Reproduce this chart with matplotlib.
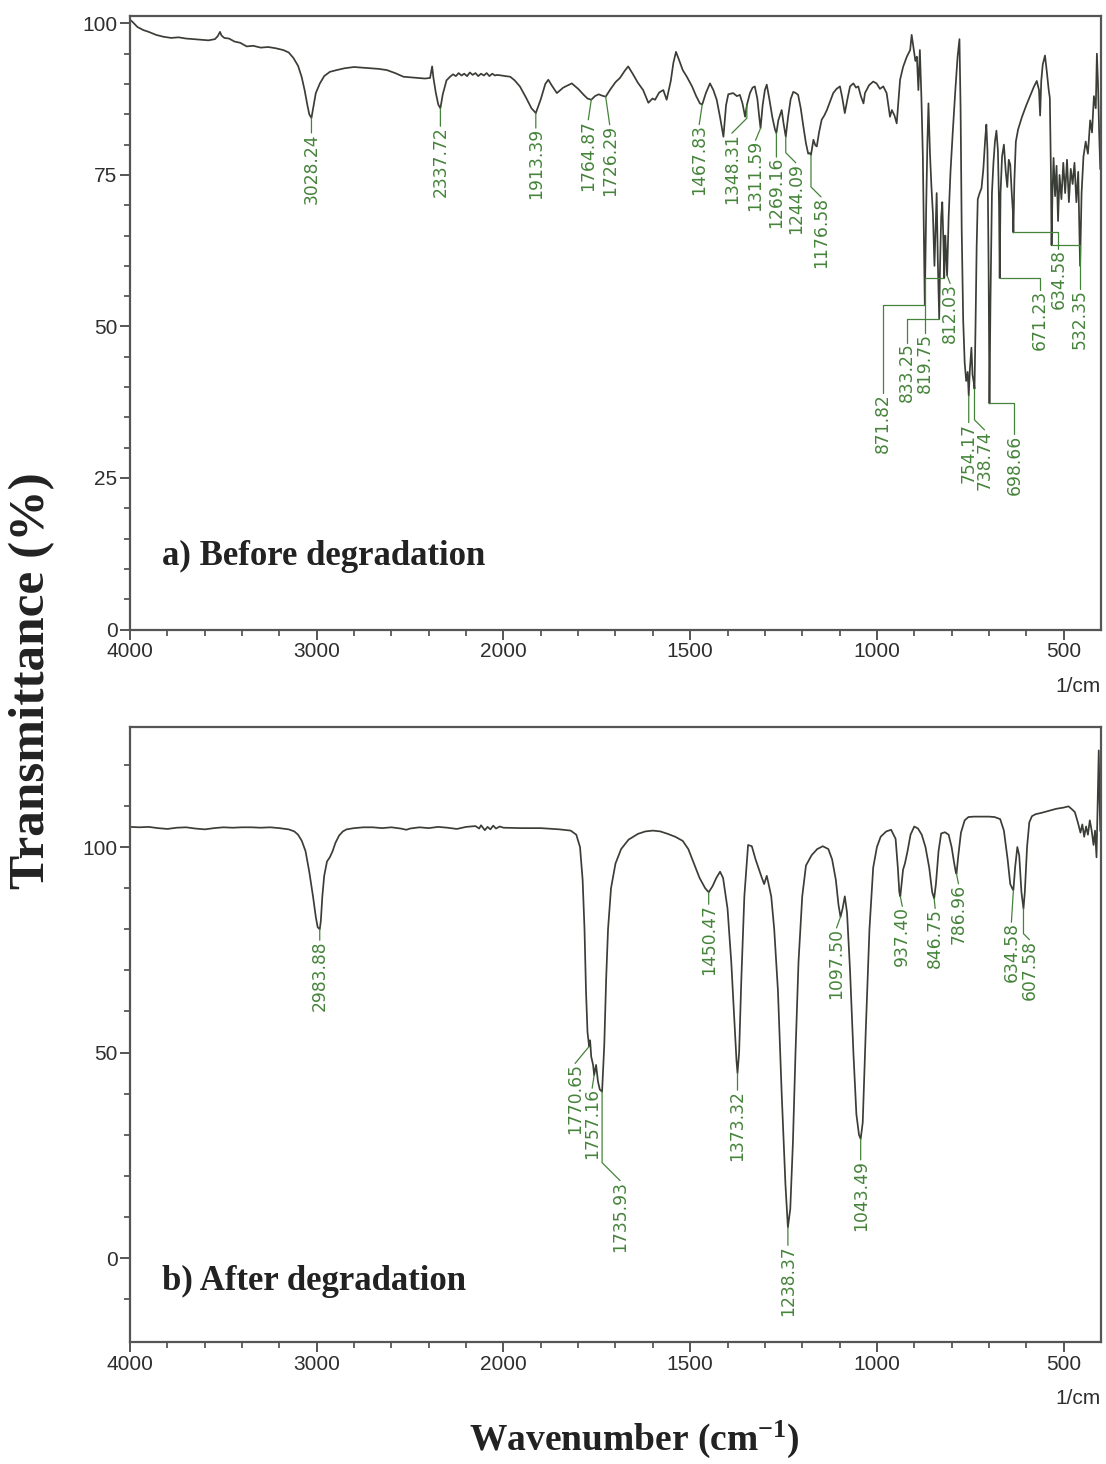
import numpy as np
import matplotlib
matplotlib.use("Agg")
import matplotlib.pyplot as plt

# ---------------- data ----------------
wn_a = [4000, 3985, 3960, 3929, 3900, 3860, 3822, 3780, 3740, 3700, 3660, 3620, 3580, 3545, 3530, 3518, 3510,
        3495, 3470, 3440, 3410, 3375, 3340, 3300, 3260, 3220, 3179, 3150, 3125, 3100, 3081, 3065, 3050, 3040,
        3028.24, 3018, 3005, 2983, 2960, 2930, 2893, 2850, 2800, 2760, 2715, 2670, 2625, 2580, 2536, 2500,
        2460, 2420, 2393, 2386, 2382, 2375, 2362, 2349, 2337.72, 2325, 2305, 2286, 2270, 2255, 2240, 2225,
        2210, 2195, 2180, 2165, 2150, 2135, 2120, 2105, 2090, 2075, 2060, 2045, 2035, 2010, 1995, 1982, 1970,
        1956, 1940, 1925, 1913.39, 1900, 1888, 1880, 1870, 1857, 1840, 1817, 1800, 1785, 1775, 1764.87, 1755,
        1745, 1737, 1726.29, 1715, 1700, 1688, 1675, 1666, 1655, 1640, 1626, 1612, 1601, 1594, 1583, 1572,
        1563, 1552, 1545, 1538, 1530, 1520, 1509, 1495, 1484, 1474, 1467.83, 1458, 1447, 1438, 1429, 1420,
        1411, 1404, 1398, 1385, 1375, 1367, 1360, 1353, 1348.31, 1340, 1333, 1327, 1320, 1315, 1311.59, 1306,
        1300, 1295, 1288, 1280, 1273, 1269.16, 1264, 1255, 1250, 1244.09, 1238, 1231, 1224, 1217, 1211, 1204,
        1197, 1190, 1184, 1180, 1176.58, 1170, 1165, 1161, 1155, 1148, 1141, 1134, 1125, 1117, 1108, 1099,
        1093, 1086, 1079, 1072, 1063, 1056, 1050, 1043, 1036, 1032, 1021, 1010, 1001, 992, 983, 974, 965, 960,
        953, 947, 942, 938, 930, 920, 911, 907, 902, 897, 893, 889, 885, 881, 877, 874, 871.82, 868, 865, 862,
        858, 854, 850, 846, 843, 840, 837, 835, 833.25, 831, 828, 825, 822, 819.75, 817, 815, 812.03, 808, 803,
        797, 790, 784, 779, 776, 773, 769, 765, 761, 757, 754.17, 751, 747, 744, 740, 738.74, 736, 733, 730,
        725, 720, 715, 710, 707, 704, 701, 698.66, 696, 692, 688, 684, 680, 676, 673, 671.23, 669, 665, 660,
        655, 651, 647, 643, 639, 636, 634.58, 632, 628, 622, 612, 600, 590, 580, 572, 566, 563, 560, 556, 550,
        545, 540, 537, 534, 532.35, 530, 527, 523, 519, 515, 511, 506, 501, 496, 491, 486, 481, 476, 471, 466,
        461, 456, 452, 447, 441, 435, 429, 424, 419, 414, 411, 408, 405, 402]
t_a = [100.6, 100.2, 99.4, 98.9, 98.6, 98.1, 97.8, 97.6, 97.7, 97.5, 97.4, 97.3, 97.2, 97.4, 97.9, 98.6, 98.0,
       97.6, 97.5, 97.0, 96.8, 96.2, 96.3, 96.0, 96.1, 95.9, 95.6, 95.2, 94.3, 93.0, 91.2, 89.0, 86.5, 85.0,
       84.4, 86.2, 88.5, 90.1, 91.3, 92.0, 92.3, 92.6, 92.8, 92.7, 92.6, 92.5, 92.3, 91.8, 91.2, 91.1,
       91.0, 90.9, 91.0, 92.2, 92.9, 91.0, 88.5, 86.6, 86.0, 88.3, 90.6, 91.2, 91.6, 91.3, 91.8, 91.4,
       91.7, 91.3, 91.9, 91.5, 91.8, 91.3, 91.7, 91.4, 91.8, 91.3, 91.7, 91.4, 91.5, 91.4, 91.3, 91.2, 90.6,
       89.6, 87.8, 86.0, 85.2, 87.5, 90.0, 90.7, 89.7, 88.5, 89.4, 90.1, 89.2, 88.2, 87.6, 87.4, 88.0,
       88.3, 88.1, 87.9, 89.0, 90.3, 91.0, 92.2, 92.9, 91.8, 90.2, 89.0, 86.9, 87.6, 87.4, 88.6, 89.0,
       87.4, 90.5, 93.5, 95.3, 94.0, 92.3, 91.2, 89.6, 88.0, 86.8, 86.6, 88.5, 90.1, 89.0, 87.4, 84.5,
       81.3, 86.5, 88.3, 88.5, 88.0, 88.2, 86.8, 84.6, 86.5, 88.5, 89.4, 89.6, 87.5, 84.5, 82.7, 86.5,
       89.0, 89.9, 87.5, 84.5, 82.5, 81.9, 84.0, 85.7, 83.5, 81.3, 84.5, 87.5, 88.7, 88.5, 88.2, 86.0,
       83.0, 80.2, 78.5, 78.6, 78.3, 80.8, 79.9, 79.7, 82.0, 84.1, 84.8, 85.7, 87.2, 88.5, 89.2, 89.6,
       87.8, 85.2, 87.5, 89.6, 90.1, 89.4, 89.6, 88.0, 86.8, 88.5, 89.8, 90.4, 90.1, 89.2, 89.6, 88.5, 84.6, 85.7,
       84.8, 83.5, 87.5, 90.7, 92.8, 94.5, 95.6, 98.1, 96.0, 93.8, 94.5, 89.0, 95.6, 88.0, 78.0, 64.0, 53.5, 70.0, 80.0, 86.8,
       78.6, 73.0, 68.5, 60.0, 66.0, 72.0, 61.0, 56.0, 51.3, 60.0, 68.0, 70.5, 64.0, 58.0, 65.0, 62.5, 58.4, 68.0, 75.5,
       82.0, 89.0, 94.5, 97.4, 86.0, 66.0, 51.0, 44.0, 41.0, 42.5, 38.6, 43.0, 46.5, 42.0, 40.5, 39.7, 50.0, 63.0, 71.0,
       72.0, 72.8, 76.0, 81.0, 83.3, 79.0, 60.0, 37.3, 54.0, 72.0, 77.0, 80.5, 82.3, 79.0, 70.0, 58.0, 72.0, 78.0, 80.0,
       75.5, 73.0, 77.5, 76.7, 72.0, 69.0, 65.5, 74.0, 80.5, 82.5, 84.5, 86.5, 88.0, 89.5, 90.5, 89.0, 84.8, 90.5, 93.2, 94.7,
       92.0, 89.0, 87.7, 75.0, 63.4, 72.0, 77.8, 71.5, 76.5, 67.4, 75.0, 71.0, 77.0, 72.0, 77.5, 70.5, 76.0, 73.5, 77.0, 70.5,
       75.5, 60.0, 72.0, 78.0, 80.5, 78.5, 84.0, 82.0, 88.0, 86.0, 95.0, 90.0, 82.0, 76.0]

wn_b = [4000, 3950, 3900, 3850, 3800, 3750, 3700, 3650, 3600, 3550, 3500, 3450, 3400, 3350, 3300, 3250, 3200,
        3150, 3120, 3100, 3080, 3060, 3040, 3020, 3005, 2995, 2988, 2983.88, 2978, 2970, 2960, 2945, 2930, 2915,
        2900, 2880, 2860, 2840, 2800, 2750, 2700, 2650, 2600, 2550, 2520, 2500, 2450, 2400, 2350, 2300, 2250,
        2230, 2200, 2150, 2130, 2120, 2100, 2085, 2070, 2055, 2040, 2020, 2000, 1950, 1900, 1850, 1820, 1805,
        1795, 1788, 1783, 1779, 1775, 1770.65, 1768, 1765, 1760, 1757.16, 1752, 1747, 1742, 1735.93, 1730,
        1725, 1720, 1712, 1700, 1685, 1665, 1640, 1620, 1600, 1580, 1560, 1540, 1520, 1505, 1490, 1475, 1460,
        1450.47, 1440, 1430, 1420, 1412, 1400, 1390, 1382, 1376, 1373.32, 1369, 1363, 1355, 1345, 1335, 1325,
        1310, 1302, 1295, 1290, 1283, 1275, 1265, 1255, 1245, 1238.37, 1232, 1225, 1218, 1210, 1200, 1190,
        1175, 1160, 1145, 1130, 1120, 1110, 1103, 1097.5, 1092, 1086, 1080, 1072, 1063, 1055, 1048, 1043.49,
        1038, 1030, 1020, 1010, 1000, 990, 975, 962, 950, 944, 940, 937.4, 934, 930, 925, 918, 910, 900, 890,
        880, 870, 860, 852, 846.75, 842, 835, 828, 818, 808, 800, 793, 789, 786.96, 782, 775, 765, 755, 740,
        720, 700, 685, 670, 660, 650, 643, 638, 634.58, 630, 624, 619, 613, 607.58, 604, 598, 592, 585, 575,
        560, 540, 520, 500, 487, 478, 470, 462, 455, 450, 445, 440, 435, 430, 425, 420, 416, 412, 409, 406,
        404, 402]
t_b = [104.9, 104.8, 104.9, 104.6, 104.4, 104.7, 104.8, 104.5, 104.3, 104.6, 104.8, 104.7, 104.8, 104.8, 104.7,
       104.8, 104.6, 104.3, 103.8, 103.0, 101.5, 99.0, 94.0, 88.0, 83.0, 80.5, 80.2, 80.0, 82.0, 88.0, 93.0, 96.5,
       97.5, 99.0, 101.0, 102.8, 103.8, 104.3, 104.6, 104.8, 104.8, 104.6, 104.8, 104.5, 104.2, 104.5, 104.8,
       104.6, 104.9, 104.7, 104.4, 104.6, 104.9, 105.1, 104.5, 105.3, 104.1, 104.9, 104.3, 105.2, 104.5, 105.0,
       104.7, 104.6, 104.6, 104.3, 104.0, 103.0, 100.0, 92.0, 80.0, 65.0, 55.0, 51.5, 53.0, 49.0, 47.0, 44.5,
       47.0, 43.0, 41.0, 40.5, 52.0, 68.0, 80.0, 90.0, 96.0, 99.5, 101.8, 103.2, 103.8, 104.0, 103.8, 103.2,
       102.5, 101.5, 99.5, 96.0, 92.5, 90.0, 89.0, 90.5, 92.5, 94.0, 92.5, 85.0, 72.0, 58.0, 48.0, 45.0, 50.0,
       68.0, 88.0, 100.5, 100.2, 97.0, 93.0, 91.0, 93.0, 91.0, 88.0, 80.0, 65.0, 40.0, 18.0, 7.5, 12.0, 28.0,
       50.0, 72.0, 88.0, 95.5, 98.0, 99.5, 100.2, 99.5, 97.0, 92.0, 86.0, 83.0, 85.0, 88.0, 84.0, 70.0, 50.0,
       35.0, 30.0, 29.0, 33.0, 55.0, 80.0, 95.0, 100.0, 102.5, 103.8, 104.2, 102.0, 95.0, 89.0, 88.0, 91.0,
       94.5, 96.0, 99.0, 103.0, 105.0, 104.5, 103.0, 100.0, 95.0, 89.0, 87.5, 91.0, 99.0, 103.3, 103.6, 103.0,
       100.0, 96.0, 94.0, 93.5, 98.0, 103.5, 106.5, 107.3, 107.4, 107.4, 107.4, 107.3, 106.8, 104.0, 97.0,
       91.0, 90.0, 89.5, 95.0, 100.0, 98.0, 89.0, 85.0, 89.0, 100.0, 106.0, 107.5, 108.0, 108.3, 108.8, 109.3,
       109.6, 109.9, 109.2, 108.5, 106.0, 103.5, 105.5, 102.5, 105.0, 103.0, 106.5, 104.0, 100.5, 104.0, 97.5,
       110.0, 123.5, 112.0, 104.0]

# peak labels
labels_a = ["3028.24", "2337.72", "1913.39", "1764.87", "1726.29", "1467.83", "1348.31", "1311.59",
            "1269.16", "1244.09", "1176.58", "871.82", "833.25", "819.75", "812.03", "754.17", "738.74",
            "698.66", "671.23", "634.58", "532.35"]
labels_b = ["2983.88", "1770.65", "1757.16", "1735.93", "1450.47", "1373.32", "1238.37", "1097.50",
            "1043.49", "937.40", "846.75", "786.96", "634.58", "607.58"]

# label placement styles: pixel offset dx, gap below peak, leader kind
# leader kind: 's' straight, 'e' elbow (horizontal then down), 'r' slash to right, 'l' slash to left
style_a = [(0, 15, "s"), (0, 18, "s"), (0, 15, "s"), (-3, 20, "s"), (4, 28, "s"), (-3, 20, "s"),
           (-15, 28, "l"), (-5, 12, "s"), (0, 24, "s"), (10, 26, "r"), (10, 42, "r"), (-42, 88, "e"),
           (-32, 24, "e"), (-19, 55, "e"), (3, 8, "s"), (0, 27, "s"), (10, 41, "r"), (25, 31, "e"),
           (40, 12, "e"), (45, 17, "e"), (28, 44, "e")]
style_b = [(0, 11, "s"), (-14, 17, "s"), (-2, 13, "s"), (18, 89, "r"), (0, 12, "s"), (0, 17, "s"),
           (0, 18, "s"), (-4, 11, "s"), (0, 21, "s"), (2, 10, "s"), (1, 10, "s"), (2, 10, "s"),
           (-2, 32, "s"), (6, 31, "r")]

major_ticks = [4000, 3000, 2000, 1500, 1000, 500]
minor_ticks = [3800, 3600, 3400, 3200, 2800, 2600, 2400, 2200, 1900, 1800, 1700, 1600, 1400, 1300, 1200,
               1100, 900, 800, 700, 600]

# ---------------- style ----------------
LINE = "#3a3e36"
GREEN = "#45833a"
FRAME = "#555555"
TICKC = "#3a3a3a"
plt.rcParams["mathtext.fontset"] = "custom"
plt.rcParams["mathtext.rm"] = "Liberation Serif:bold"
plt.rcParams["mathtext.bf"] = "Liberation Serif:bold"
plt.rcParams["mathtext.it"] = "Liberation Serif:bold"

W, H = 1106, 1464
fig = plt.figure(figsize=(W / 100, H / 100), dpi=100)


def fwd(w):
    w = np.asarray(w, dtype=float)
    return np.where(w > 2000, 2000 + (w - 2000) / 2.0, w)


def inv(v):
    v = np.asarray(v, dtype=float)
    return np.where(v > 2000, 2000 + (v - 2000) * 2.0, v)


def depth(w, xs, ys):
    xs = np.asarray(xs, float)
    ys = np.asarray(ys, float)
    m = np.abs(xs - w) <= 3
    if m.any():
        return ys[m].min()
    return float(np.interp(w, xs[::-1], ys[::-1]))


def make_axes(box):
    l, b, r, t = box
    ax = fig.add_axes([l / W, 1 - b / H, (r - l) / W, (b - t) / H])
    ax.set_xscale("function", functions=(fwd, inv))
    ax.set_xlim(4000, 400)
    ax.set_xticks(major_ticks)
    ax.set_xticks(minor_ticks, minor=True)
    ax.set_xticklabels([str(v) for v in major_ticks])
    for s in ax.spines.values():
        s.set_color(FRAME)
        s.set_linewidth(1.6)
    ax.tick_params(which="major", direction="out", length=7, width=1.2, color=TICKC,
                   labelsize=15, labelcolor="#2e2e2e", pad=2)
    ax.tick_params(which="minor", direction="out", length=4, width=1.1, color=TICKC)
    ax.annotate("1/cm", xy=(1, 0), xycoords="axes fraction", xytext=(0, -34),
                textcoords="offset points", ha="right", va="top", fontsize=15,
                family="Liberation Sans", color="#2e2e2e")
    return ax


CONN = {"s": "arc3", "e": "angle,angleA=90,angleB=0,rad=0",
        "r": "angle,angleA=135,angleB=90,rad=0", "l": "angle,angleA=45,angleB=90,rad=0"}


def add_labels(ax, labels, style, xs, ys):
    for text, (dx, gap, kind) in zip(labels, style):
        w = float(text)
        d = depth(w, xs, ys)
        ax.annotate(text, xy=(w, d), xytext=(dx * 0.72, -gap * 0.72), textcoords="offset points",
                    rotation=90, ha="center", va="top", fontsize=12.3, color=GREEN,
                    family="DejaVu Sans",
                    arrowprops=dict(arrowstyle="-", color=GREEN, lw=0.9, shrinkA=0, shrinkB=0,
                                    patchA=None, relpos=(0.5, 1.0), connectionstyle=CONN[kind]))


def font_ticks(ax):
    for lab in ax.get_xticklabels() + ax.get_yticklabels():
        lab.set_fontfamily("Liberation Sans")


# panel a
ax1 = make_axes((130, 629.5, 1101, 15.5))
ax1.plot(wn_a, t_a, color=LINE, lw=1.25)
ax1.set_ylim(0, 101.3)
ax1.set_yticks([0, 25, 50, 75, 100])
ax1.set_yticks(np.arange(5, 101, 5), minor=True)
font_ticks(ax1)
add_labels(ax1, labels_a, style_a, wn_a, t_a)
ax1.text(0.033, 0.105, "a) Before degradation", transform=ax1.transAxes, ha="left", va="baseline",
         fontsize=25, fontweight="bold", family="Liberation Serif", color="#222222")

# panel b
ax2 = make_axes((130, 1342, 1101, 727))
ax2.plot(wn_b, t_b, color=LINE, lw=1.25)
ax2.set_ylim(-20.4, 129.2)
ax2.set_yticks([0, 50, 100])
ax2.set_yticks([-10, 10, 20, 30, 40, 60, 70, 80, 90, 110, 120], minor=True)
font_ticks(ax2)
add_labels(ax2, labels_b, style_b, wn_b, t_b)
ax2.text(0.033, 0.0846, "b) After degradation", transform=ax2.transAxes, ha="left", va="baseline",
         fontsize=25, fontweight="bold", family="Liberation Serif", color="#222222")

fig.text(32 / W, 1 - 681 / H, "Transmittance (%)", rotation=90, ha="center", va="center",
         fontsize=37, fontweight="bold", family="Liberation Serif", color="#222222")
fig.text(634 / W, 1 - 1450 / H, "Wavenumber (cm$^{-1}$)", ha="center", va="baseline",
         fontsize=27, fontweight="bold", family="Liberation Serif", color="#222222")

fig.savefig("out.png", dpi=100, facecolor="white")
